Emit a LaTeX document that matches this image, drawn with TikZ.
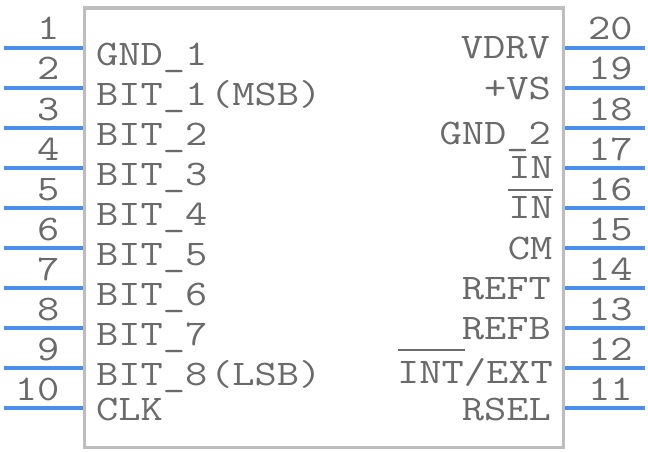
\documentclass[tikz,border=0pt]{standalone}
\definecolor{pinblue}{HTML}{4A8FEE}
\definecolor{bodygrey}{HTML}{BDBDBD}
\definecolor{textgrey}{HTML}{6A6A6A}
\newcommand{\lbl}[1]{\scalebox{1.2}[1]{\fontsize{36}{38}\selectfont\ttfamily #1}}
\tikzset{
  x=1pt,y=-1pt,
  pinline/.style={draw=pinblue,line width=3.6pt},
  bodybox/.style={draw=bodygrey,line width=3.4pt,line join=miter},
  barline/.style={draw=textgrey,line width=1.5pt},
  lefttext/.style={anchor=base west,inner sep=0pt,text=textgrey},
  righttext/.style={anchor=base east,inner sep=0pt,text=textgrey},
}
\begin{document}
\begin{tikzpicture}
\useasboundingbox (0,0) rectangle (648,452);
\draw[bodybox] (84.3,8) rectangle (563.7,447.6);
% pins
\foreach \n in {1,...,10}{
  \pgfmathsetmacro{\py}{8+40*\n}
  \coordinate (la\n) at (3.5,\py);
  \coordinate (lb\n) at (82.6,\py);
  \draw[pinline] (la\n) -- (lb\n);
  \pgfmathsetmacro{\by}{\py-8}
  \node[righttext] (ln\n) at (59.5,\by) {\lbl{\n}};
  \pgfmathtruncatemacro{\m}{21-\n}
  \coordinate (ra\m) at (565.4,\py);
  \coordinate (rb\m) at (644.5,\py);
  \draw[pinline] (ra\m) -- (rb\m);
  \node[lefttext] (rn\m) at (588,\by) {\lbl{\m}};
}
% left labels
\node[lefttext] (t1) at (96,65.5) {\lbl{GND\textunderscore 1}};
\node[lefttext] (t2) at (96,105.5) {\lbl{BIT\textunderscore 1}};
\node[lefttext] (t2b) at (210,105.5) {\lbl{(MSB)}};
\node[lefttext] (t3) at (96,145.5) {\lbl{BIT\textunderscore 2}};
\node[lefttext] (t4) at (96,185.5) {\lbl{BIT\textunderscore 3}};
\node[lefttext] (t5) at (96,225.5) {\lbl{BIT\textunderscore 4}};
\node[lefttext] (t6) at (96,265.5) {\lbl{BIT\textunderscore 5}};
\node[lefttext] (t7) at (96,305.5) {\lbl{BIT\textunderscore 6}};
\node[lefttext] (t8) at (96,345.5) {\lbl{BIT\textunderscore 7}};
\node[lefttext] (t9) at (96,385.5) {\lbl{BIT\textunderscore 8}};
\node[lefttext] (t9b) at (210,385.5) {\lbl{(LSB)}};
\node[lefttext] (t10) at (96,420.5) {\lbl{CLK}};
% right labels
\node[righttext] (r20) at (550,59) {\lbl{VDRV}};
\node[righttext] (r19) at (551,99.5) {\lbl{+VS}};
\node[righttext] (r18) at (551,144.5) {\lbl{GND\textunderscore 2}};
\node[righttext] (r17) at (553,178.5) {\lbl{IN}};
\node[righttext] (r16) at (553,218.5) {\lbl{IN}};
\node[righttext] (r15) at (552.5,259.5) {\lbl{CM}};
\node[righttext] (r14) at (551,299.5) {\lbl{REFT}};
\node[righttext] (r13) at (551,339.5) {\lbl{REFB}};
\node[righttext] (r12) at (553,383.5) {\lbl{INT/EXT}};
\node[righttext] (r11) at (551,420.5) {\lbl{RSEL}};
% overbars
\draw[barline] (508,190) -- (553,190);
\draw[barline] (398,350) -- (464.7,350);
\end{tikzpicture}
\end{document}
